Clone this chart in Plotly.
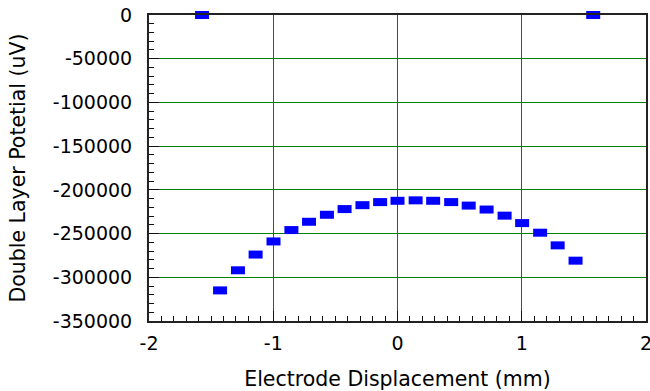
import plotly.graph_objects as go

# Electrode displacement (mm) and double layer potential (uV)
displacement_mm = [-1.573, -1.428, -1.284, -1.142, -0.998, -0.854, -0.712, -0.568,
                   -0.426, -0.282, -0.140, 0.0, 0.146, 0.287, 0.432, 0.573,
                   0.717, 0.862, 1.003, 1.148, 1.289, 1.433, 1.575]
potential_uV = [0, -315000, -292000, -274000, -259000, -246000, -236500, -228500,
                -222000, -217500, -214000, -212500, -212000, -212500, -214000, -218000,
                -222500, -229500, -238000, -249000, -263500, -281000, 0]

x_ticks = [-2, -1, 0, 1, 2]
y_ticks = [0, -50000, -100000, -150000, -200000, -250000, -300000, -350000]

FONT = "DejaVu Sans"

fig = go.Figure()
fig.add_trace(go.Scatter(
    x=displacement_mm, y=potential_uV, mode="markers",
    marker=dict(symbol="line-ew", size=10, color="#0000ff",
                line=dict(color="#0000ff", width=8)),
    cliponaxis=False, showlegend=False,
))

axis_common = dict(
    ticks="inside", ticklen=10, tickwidth=1, tickcolor="#111",
    showline=True, linecolor="#222", linewidth=2, mirror=True,
    showgrid=True, gridcolor="#008000", gridwidth=1, zeroline=False,
    automargin=False, ticklabeloverflow="allow",
    tickfont=dict(family=FONT, size=19, color="black"),
)

fig.update_xaxes(
    range=[-2, 2], tickvals=x_ticks, ticktext=[str(v) for v in x_ticks],
    minor=dict(dtick=0.1, tick0=0, ticks="inside", ticklen=5, tickcolor="#111", showgrid=False),
    title=dict(text="Electrode Displacement (mm)", font=dict(family=FONT, size=20.5, color="black"), standoff=21),
    ticklabelstandoff=4,
    **axis_common,
)
fig.update_yaxes(
    range=[-350000, 0], tickvals=y_ticks, ticktext=[str(v) for v in y_ticks],
    minor=dict(dtick=10000, tick0=0, ticks="inside", ticklen=5, tickcolor="#111", showgrid=False),
    title=dict(text="Double Layer Potetial (uV)", font=dict(family=FONT, size=20.5, color="black"), standoff=22),
    ticklabelstandoff=11,
    **axis_common,
)

fig.update_layout(
    width=650, height=391,
    margin=dict(l=149, r=4, t=15, b=70),
    paper_bgcolor="white", plot_bgcolor="white",
    yaxis2=dict(overlaying="y", side="right", range=[-350000, 0], showline=True,
                linecolor="#222", linewidth=2, showticklabels=False, ticks="",
                showgrid=False, zeroline=False, automargin=False),
)

fig.write_html("out.html", config={"displayModeBar": False},
               post_script="document.body.style.margin='0';document.body.style.overflow='hidden';")
